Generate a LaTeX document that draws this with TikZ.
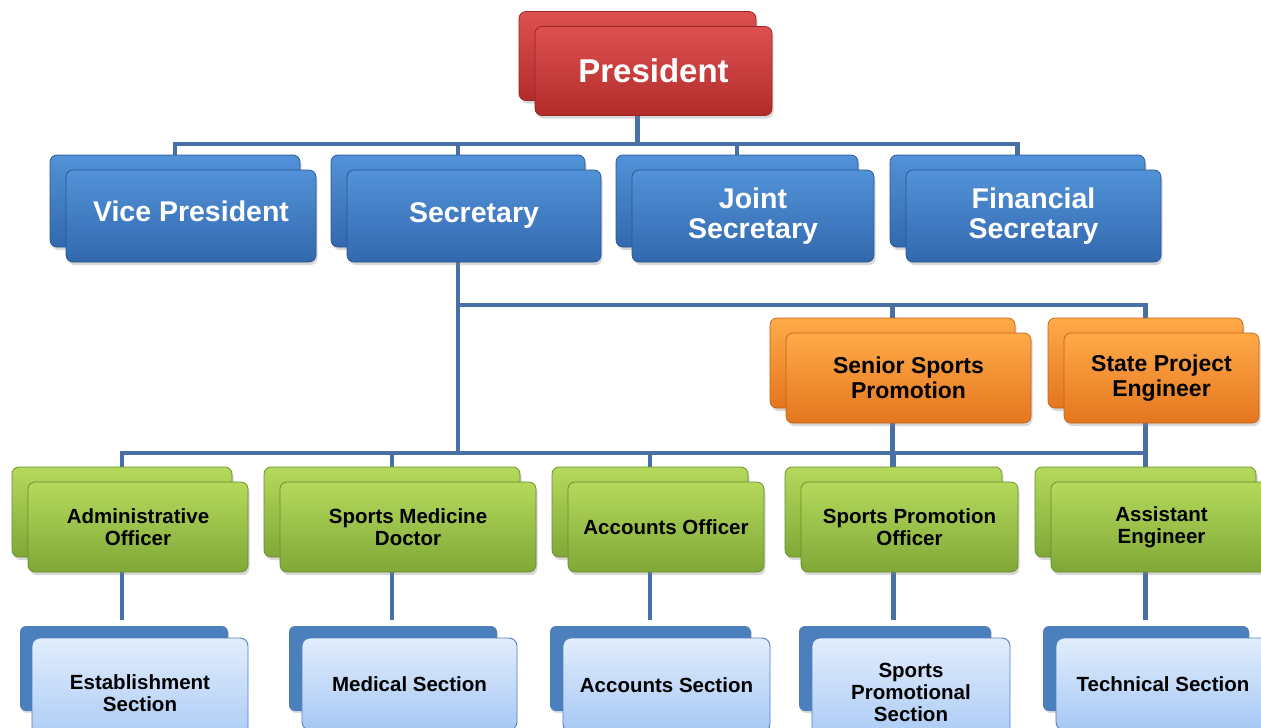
\documentclass[tikz,border=0pt]{standalone}
\usepackage{fontspec}
\setmainfont{Liberation Sans}
\usetikzlibrary{shadows,backgrounds,calc}

\definecolor{redT}{RGB}{222,80,80}
\definecolor{redB}{RGB}{178,44,44}
\definecolor{redD}{RGB}{150,36,36}
\definecolor{bluT}{RGB}{82,146,216}
\definecolor{bluB}{RGB}{50,104,174}
\definecolor{bluD}{RGB}{40,86,145}
\definecolor{orT}{RGB}{255,170,72}
\definecolor{orB}{RGB}{228,118,30}
\definecolor{orD}{RGB}{196,98,24}
\definecolor{grT}{RGB}{180,217,92}
\definecolor{grB}{RGB}{128,168,55}
\definecolor{grD}{RGB}{104,140,44}
\definecolor{ltT}{RGB}{226,237,252}
\definecolor{ltB}{RGB}{166,200,245}
\definecolor{ltD}{RGB}{80,130,190}
\definecolor{secBk}{RGB}{76,128,188}
\definecolor{connC}{RGB}{72,112,165}

\newcommand\orgpair[7]{%
  \node[#2, minimum width=#5, minimum height=#6] (#1) at (#3,#4) {};
  \node[#2, minimum width=#5, minimum height=#6] (#1-f) at ($(#1)+(16,15)$) {#7};
}
\newcommand\secpair[8]{%
  \node[secback, minimum width=#4] (#1) at (#2,668.5) {};
  \node[secfront, minimum width=#5, minimum height=#7] (#1-f) at (#3,#6) {#8};
}

\begin{document}
\begin{tikzpicture}[x=1pt,y=-1pt,
  box/.style={rounded corners=7pt, line width=0.7pt, inner sep=2pt, align=center,
    drop shadow={opacity=0.3, shadow xshift=1.5pt, shadow yshift=-3pt}},
  redbox/.style={box, top color=redT, bottom color=redB, draw=redD, text=white,
    font=\bfseries\fontsize{33}{35}\selectfont},
  bluebox/.style={box, top color=bluT, bottom color=bluB, draw=bluD, text=white,
    font=\bfseries\fontsize{28.5}{29.5}\selectfont},
  orbox/.style={box, top color=orT, bottom color=orB, draw=orD, text=black,
    font=\bfseries\fontsize{23}{25.5}\selectfont},
  grbox/.style={box, top color=grT, bottom color=grB, draw=grD, text=black,
    font=\bfseries\fontsize{20.5}{22}\selectfont},
  secback/.style={rounded corners=6pt, fill=secBk, minimum height=85pt,
    drop shadow={opacity=0.25, shadow xshift=1pt, shadow yshift=-2pt}},
  secfront/.style={rounded corners=8pt, line width=0.9pt, inner sep=2pt, align=center,
    top color=ltT, bottom color=ltB, draw=ltD, text=black,
    font=\bfseries\fontsize{20.5}{22}\selectfont},
  connector/.style={draw=connC, line width=4.5pt}
]
\useasboundingbox (0,0) rectangle (1261,728);
\clip (0,0) rectangle (1261,728);

% top levels
\orgpair{pres}{redbox}{637.5}{56}{237pt}{89pt}{President}
\orgpair{vp}{bluebox, text depth=10pt}{175}{201}{250pt}{92pt}{Vice President}
\orgpair{sec}{bluebox}{458}{201}{254pt}{92pt}{Secretary}
\orgpair{jsec}{bluebox}{737}{201}{242pt}{92pt}{Joint\\Secretary}
\orgpair{fin}{bluebox}{1017.5}{201}{255pt}{92pt}{Financial\\Secretary}
\orgpair{senior}{orbox}{892.5}{363}{245pt}{90pt}{Senior Sports\\Promotion}
\orgpair{state}{orbox}{1145.5}{363}{195pt}{90pt}{State Project\\Engineer}
\orgpair{adm}{grbox}{122}{512}{220pt}{90pt}{Administrative\\Officer}
\orgpair{smd}{grbox}{392}{512}{256pt}{90pt}{Sports Medicine\\Doctor}
\orgpair{acc}{grbox}{650}{512}{196pt}{90pt}{Accounts Officer}
\orgpair{spo}{grbox}{893.5}{512}{217pt}{90pt}{Sports Promotion\\Officer}
\orgpair{aeng}{grbox}{1145.5}{512}{221pt}{90pt}{Assistant\\Engineer}

% sections
\secpair{estab}{124}{140}{208pt}{216pt}{693}{110pt}{Establishment\\Section}
\secpair{med}{393}{409.5}{208pt}{215pt}{684}{92pt}{Medical Section}
\secpair{accs}{650.5}{666.5}{201pt}{207pt}{685}{94pt}{Accounts Section}
\secpair{sps}{895}{911}{192pt}{198pt}{692}{108pt}{Sports\\Promotional\\Section}
\secpair{tech}{1146}{1163}{206pt}{214pt}{684}{92pt}{Technical Section}

\begin{scope}[on background layer]
  \fill[white] (0,0) rectangle (1261,728);
  \coordinate (busA) at (0,144);
  \coordinate (busB) at (0,305);
  \coordinate (busC) at (0,453);
  \draw[connector] (pres) -- (pres |- busA);
  \draw[connector] (vp) -- (vp |- busA) -- (fin |- busA) -- (fin);
  \draw[connector] (sec) -- (sec |- busA);
  \draw[connector] (jsec) -- (jsec |- busA);
  \draw[connector] (sec) -- (sec |- busC);
  \draw[connector] (sec |- busB) -- (state |- busB) -- (state);
  \draw[connector] (senior |- busB) -- (senior);
  \draw[connector] (adm) -- (adm |- busC) -- (aeng |- busC) -- (aeng);
  \draw[connector] (smd) -- (smd |- busC);
  \draw[connector] (acc) -- (acc |- busC);
  \draw[connector] (spo) -- (spo |- busC);
  \draw[connector] (senior) -- (senior |- spo);
  \draw[connector] (state) -- (state |- aeng);
  \draw[connector, shorten >=6pt] (adm) -- (adm |- estab.north);
  \draw[connector, shorten >=6pt] (smd) -- (smd |- med.north);
  \draw[connector, shorten >=6pt] (acc) -- (acc |- accs.north);
  \draw[connector, shorten >=6pt] (spo) -- (spo |- sps.north);
  \draw[connector, shorten >=6pt] (aeng) -- (aeng |- tech.north);
\end{scope}
\end{tikzpicture}
\end{document}
